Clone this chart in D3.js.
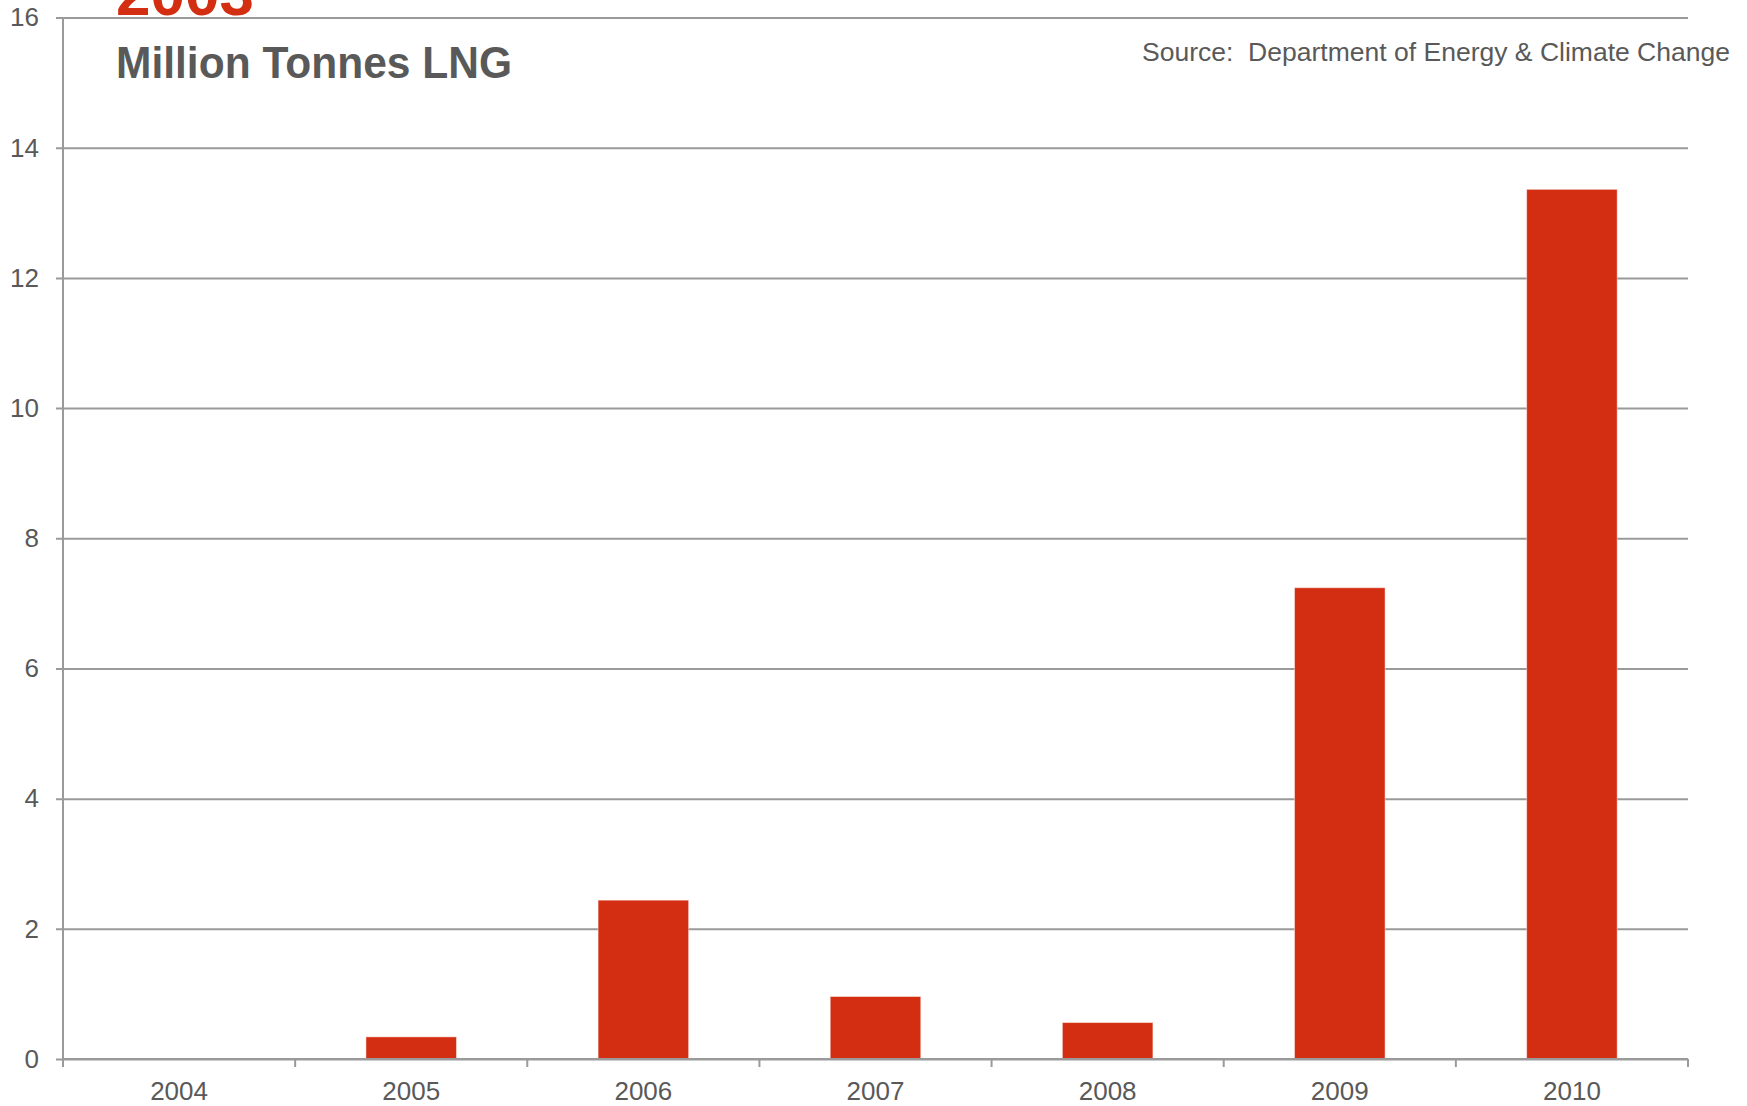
<!DOCTYPE html>
<html>
<head>
<meta charset="utf-8">
<script src="https://cdn.jsdelivr.net/npm/d3@7"></script>
<style>
  html, body { margin: 0; padding: 0; background: #fff; }
  svg { display: block; font-family: "Liberation Sans", Arial, Helvetica, sans-serif; }
</style>
</head>
<body>
<script>
// UK LNG imports, million tonnes per year
const years = ["2004", "2005", "2006", "2007", "2008", "2009", "2010"];
const tonnes = [0, 0.34, 2.44, 0.96, 0.56, 7.24, 13.36];
const yTicks = [0, 2, 4, 6, 8, 10, 12, 14, 16];

const W = 1747, H = 1106;
const margin = { top: 17.5, right: 59, bottom: 47, left: 63 };
const red = "#d42e12";
const grey = "#9a9a9a";
const textGrey = "#595959";

const svg = d3.select("body").append("svg")
  .attr("width", W).attr("height", H);

const x = d3.scaleBand()
  .domain(years)
  .range([margin.left, W - margin.right])
  .paddingInner(0.61)
  .paddingOuter(0.305);

const xEdges = d3.scaleBand()
  .domain(years)
  .range([margin.left, W - margin.right]);

const y = d3.scaleLinear()
  .domain([0, 16])
  .range([H - margin.bottom, margin.top]);

// horizontal gridlines with short ticks left of the axis
const yAxis = d3.axisLeft(y)
  .tickValues(yTicks)
  .tickSize(-(W - margin.right - margin.left))
  .tickSizeOuter(0)
  .tickPadding(24)
  .tickFormat(d3.format("d"));

const gy = svg.append("g")
  .attr("transform", `translate(${margin.left},0)`)
  .call(yAxis);
gy.select(".domain").remove();
gy.selectAll(".tick line")
  .attr("x1", -7)
  .attr("stroke", grey).attr("stroke-width", 2);
gy.selectAll(".tick text")
  .attr("fill", textGrey)
  .attr("font-size", 26)
  .attr("font-family", "Liberation Sans, Arial, sans-serif");

// vertical axis line
svg.append("line")
  .attr("x1", margin.left).attr("x2", margin.left)
  .attr("y1", y(16)).attr("y2", y(0))
  .attr("stroke", grey).attr("stroke-width", 2);

// bars
svg.append("g").selectAll("rect")
  .data(years.map((yr, i) => ({ yr, v: tonnes[i] })).filter(d => d.v > 0))
  .join("rect")
  .attr("x", d => x(d.yr))
  .attr("width", x.bandwidth())
  .attr("y", d => y(d.v))
  .attr("height", d => y(0) - y(d.v))
  .attr("fill", red)
  .attr("stroke", "#ffffff")
  .attr("stroke-opacity", 0.45)
  .attr("stroke-width", 1);

// x axis with ticks at category boundaries
const boundaries = years.map(yr => xEdges(yr)).concat([W - margin.right]);
const gx = svg.append("g");
gx.append("line")
  .attr("x1", margin.left).attr("x2", W - margin.right)
  .attr("y1", y(0)).attr("y2", y(0))
  .attr("stroke", grey).attr("stroke-width", 2);
gx.selectAll("line.tk")
  .data(boundaries)
  .join("line")
  .attr("class", "tk")
  .attr("x1", d => d).attr("x2", d => d)
  .attr("y1", y(0)).attr("y2", y(0) + 8)
  .attr("stroke", grey).attr("stroke-width", 2);
gx.selectAll("text")
  .data(years)
  .join("text")
  .attr("x", d => xEdges(d) + xEdges.bandwidth() / 2)
  .attr("y", H - 6)
  .attr("text-anchor", "middle")
  .attr("fill", textGrey)
  .attr("font-size", 26)
  .text(d => d);

// headings
svg.append("text")
  .attr("x", 116).attr("y", 15)
  .attr("fill", red)
  .attr("font-size", 62)
  .attr("font-weight", "bold")
  .text("2003");

svg.append("text")
  .attr("x", 116).attr("y", 78)
  .attr("fill", textGrey)
  .attr("font-size", 44)
  .attr("font-weight", "bold")
  .attr("textLength", 396)
  .attr("lengthAdjust", "spacingAndGlyphs")
  .text("Million Tonnes LNG");

svg.append("text")
  .attr("x", 1142).attr("y", 61)
  .attr("fill", textGrey)
  .attr("font-size", 26)
  .attr("textLength", 588)
  .attr("lengthAdjust", "spacingAndGlyphs")
  .style("white-space", "pre")
  .text("Source:  Department of Energy & Climate Change");
</script>
</body>
</html>
